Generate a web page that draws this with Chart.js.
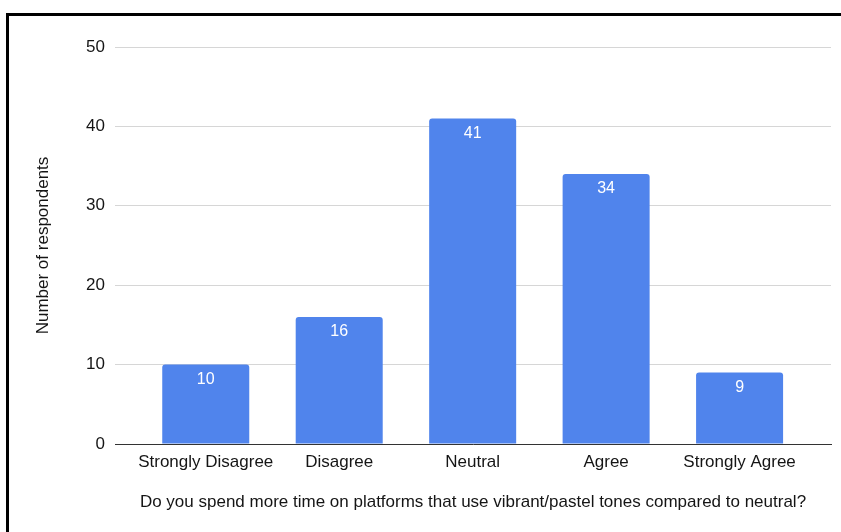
<!DOCTYPE html>
<html>
<head>
<meta charset="utf-8">
<script src="https://cdn.jsdelivr.net/npm/chart.js@4/dist/chart.umd.min.js"></script>
<style>
  html, body { margin: 0; padding: 0; background: #fff; }
  #wrap { position: relative; width: 841px; height: 532px; }
  #frame {
    position: absolute; left: 6px; top: 13px; right: -5px; bottom: -5px;
    border-left: 3px solid #000; border-top: 3px solid #000;
    pointer-events: none;
  }
</style>
</head>
<body>
<div id="wrap">
  <canvas id="chart" width="841" height="532"></canvas>
  <div id="frame"></div>
</div>
<script>
// answers and counts
const categories = ['Strongly Disagree', 'Disagree', 'Neutral', 'Agree', 'Strongly Agree'];
const respondents = [10, 16, 41, 34, 9];
const yTicks = [0, 10, 20, 30, 40, 50];

const xTitle = 'Do you spend more time on platforms that use vibrant/pastel tones compared to neutral?';
const yTitle = 'Number of respondents';

const FONT = 'Arial, "Liberation Sans", sans-serif';
const TEXT = '#151515';

// white value labels just inside the top of each bar
const barLabels = {
    id: 'barLabels',
    afterDatasetsDraw: (chart) => {
        const ctx = chart.ctx;
        const meta = chart.getDatasetMeta(0);
        ctx.save();
        ctx.fillStyle = '#ffffff';
        ctx.font = '500 16px ' + FONT;
        ctx.textAlign = 'center';
        ctx.textBaseline = 'middle';
        meta.data.forEach((bar, i) => {
            ctx.fillText(String(respondents[i]), bar.x, bar.y + 15);
        });
        ctx.restore();
    }
};

new Chart(document.getElementById('chart').getContext('2d'), {
    type: 'bar',
    data: {
        datasets: [{
            data: respondents.map((v, i) => ({ x: i, y: v })),
            backgroundColor: '#5084ec',
            borderRadius: 3,
            borderSkipped: 'start',
            barPercentage: 0.815,
            categoryPercentage: 0.8
        }]
    },
    options: {
        responsive: false,
        animation: false,
        layout: { padding: { top: 47, right: 10, bottom: 0, left: 0 } },
        plugins: {
            legend: { display: false },
            tooltip: { enabled: false }
        },
        scales: {
            x: {
                type: 'linear',
                offset: false,
                min: -0.68,
                max: 4.685,
                afterFit: (scale) => { scale.height = 88; },
                afterBuildTicks: (scale) => {
                    scale.ticks = categories.map((_, i) => ({ value: i }));
                },
                grid: { display: false, drawTicks: false, offset: false },
                border: { display: true, color: '#333333', width: 1 },
                ticks: {
                    padding: 8,
                    color: TEXT,
                    font: { family: FONT, size: 17 },
                    callback: (v) => categories[v] ?? ''
                },
                title: {
                    display: true,
                    text: xTitle,
                    color: TEXT,
                    font: { family: FONT, size: 17 },
                    padding: { top: 0, bottom: 19 }
                }
            },
            y: {
                min: 0,
                max: 50,
                afterFit: (scale) => { scale.width = 115; },
                afterBuildTicks: (scale) => {
                    scale.ticks = yTicks.map(v => ({ value: v }));
                },
                grid: { color: '#d6d6d6', drawTicks: false },
                border: { display: false },
                ticks: {
                    padding: 10,
                    color: TEXT,
                    font: { family: FONT, size: 17 }
                },
                title: {
                    display: true,
                    text: yTitle,
                    color: TEXT,
                    font: { family: FONT, size: 17 },
                    padding: { top: 33, bottom: 0 }
                }
            }
        }
    },
    plugins: [barLabels]
});
</script>
</body>
</html>
